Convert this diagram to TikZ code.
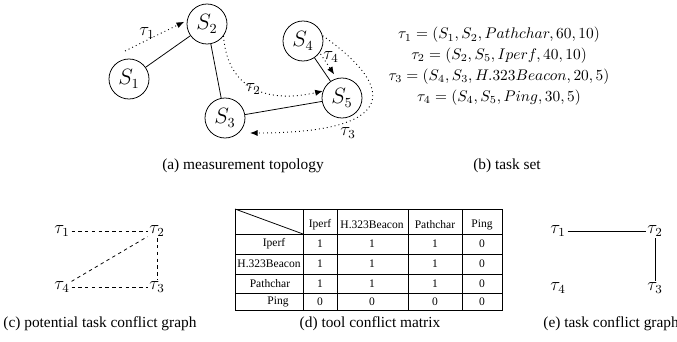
\documentclass[tikz,border=0pt]{standalone}
\usepackage{fontspec}
\setmainfont{Liberation Serif}
\usetikzlibrary{arrows.meta}

\begin{document}
\begin{tikzpicture}[x=0.65pt,y=-0.65pt,line width=0.5pt]
\tikzset{
  site/.style={draw,circle,minimum size=26pt,inner sep=0pt,font=\fontsize{13.5}{16}\selectfont},
  probe/.style={dotted,semithick,-{Latex[length=5pt,width=4pt]}},
  tlabel/.style={font=\large,inner sep=1pt},
  conflict/.style={dash pattern=on 2.2pt off 2.2pt},
  cell/.style={font=\fontsize{7.5}{9}\selectfont,inner sep=0pt},
  caption/.style={inner sep=0pt}
}
\useasboundingbox (0,0) rectangle (677,341);
% (a) measurement topology
\node[site] (s1) at (129,79) {$S_1$};
\node[site] (s2) at (207,24) {$S_2$};
\node[site] (s3) at (225,118) {$S_3$};
\node[site] (s4) at (303,41) {$S_4$};
\node[site] (s5) at (342,98) {$S_5$};
\draw (s1) -- (s2);
\draw (s2) -- (s3);
\draw (s3) -- (s5);
\draw (s4) -- (s5);
\coordinate (t1s) at (125,51);
\coordinate (t3e) at (250,133);
\draw[probe,shorten >=2pt] (t1s) -- (s2.170);
\draw[probe] (s2.-36) .. controls (228,95) and (275,102) .. (s5.160);
\draw[probe] (s4.15) .. controls (400,90) and (395,133) .. (t3e);
\draw[probe,shorten <=1pt,shorten >=3pt] (s4.-35) -- (s5.105);
\node[tlabel] (l1) at (147,33) {$\tau_1$};
\node[tlabel] (l2) at (253,89) {$\tau_2$};
\node[tlabel] (l3) at (348,133) {$\tau_3$};
\node[tlabel] (l4) at (331,57) {$\tau_4$};
\node[caption] (capa) at (243,166) {(a) measurement topology};
% (b) task set
\node[align=center] (tasks) at (499,66) {$\tau_1 = (S_1, S_2, Pathchar, 60, 10)$\\[1.5pt]
  $\tau_2 = (S_2, S_5, Iperf, 40, 10)$\\[1.5pt]
  $\tau_3 = (S_4, S_3, H.323Beacon, 20, 5)$\\[1.5pt]
  $\tau_4 = (S_4, S_5, Ping, 30, 5)$};
\node[caption] (capb) at (507,166) {(b) task set};
% (c) potential task conflict graph
\node[tlabel] (p1) at (62,231) {$\tau_1$};
\node[tlabel] (p2) at (157,231) {$\tau_2$};
\node[tlabel] (p3) at (157,287) {$\tau_3$};
\node[tlabel] (p4) at (62,287) {$\tau_4$};
\draw[conflict] (p1) -- (p2);
\draw[conflict] (p2) -- (p3);
\draw[conflict] (p4) -- (p2);
\draw[conflict] (p4) -- (p3);
\node[caption,anchor=west] (capc) at (3,324) {(c) potential task conflict graph};
% (d) tool conflict matrix
\draw (235,209) rectangle (502,310);
\foreach \x in {303,337,408,462}
  \draw (\x,209) -- (\x,310);
\foreach \y in {234,254,274,293}
  \draw (235,\y) -- (502,\y);
\draw (235,209) -- (303,234);
\foreach \name/\x [count=\i] in {Iperf/320,H.323Beacon/372,Pathchar/435,Ping/482}
  \node[cell] (h\i) at (\x,225) {\name};
\foreach \name/\x/\y [count=\i] in {Iperf/274/244,H.323Beacon/269/264,Pathchar/270/283.5,Ping/278/301.5}
  \node[cell] (r\i) at (\x,\y) {\name};
\foreach \y/\a/\b/\c/\d [count=\r] in {244/1/1/1/0,264/1/1/1/0,283.5/1/1/1/0,301.5/0/0/0/0} {
  \node[cell] (v\r-1) at (320,\y) {\a};
  \node[cell] (v\r-2) at (372,\y) {\b};
  \node[cell] (v\r-3) at (435,\y) {\c};
  \node[cell] (v\r-4) at (482,\y) {\d};
}
\node[caption] (capd) at (370,324) {(d) tool conflict matrix};
% (e) task conflict graph
\node[tlabel] (q1) at (558,231) {$\tau_1$};
\node[tlabel] (q2) at (655,231) {$\tau_2$};
\node[tlabel] (q3) at (655,288) {$\tau_3$};
\node[tlabel] (q4) at (558,288) {$\tau_4$};
\draw (q1) -- (q2);
\draw (q2) -- (q3);
\node[caption,anchor=west] (cape) at (543,324) {(e) task conflict graph};
\end{tikzpicture}
\end{document}
